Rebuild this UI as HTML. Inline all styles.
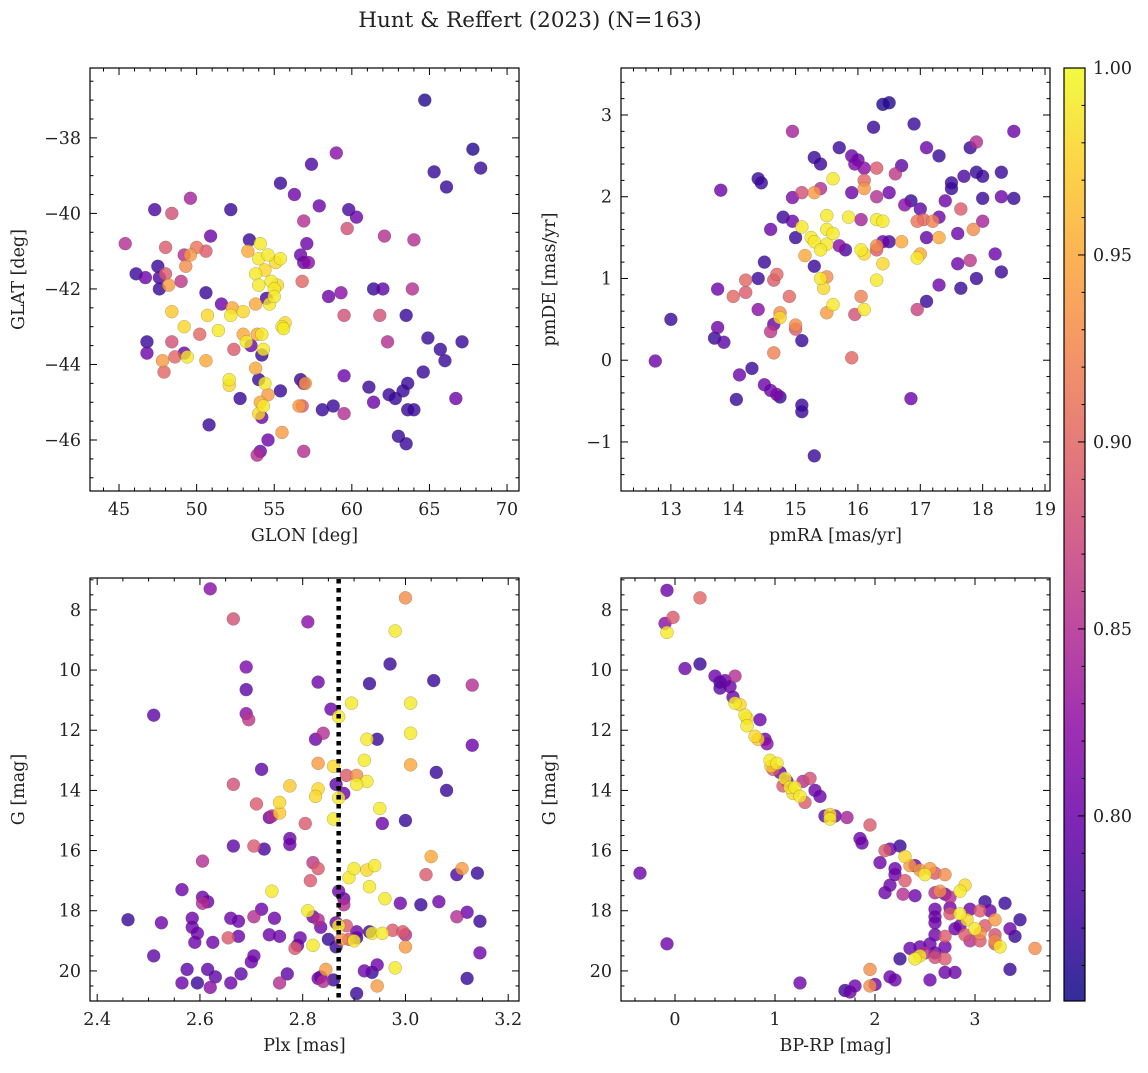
<!DOCTYPE html>
<html><head><meta charset="utf-8"><style>
html,body{margin:0;padding:0;background:#fff;}
svg text{font-family:"DejaVu Serif","Liberation Serif",serif;fill:#222;}
</style></head><body>
<svg id="fig" width="1148" height="1068" xmlns="http://www.w3.org/2000/svg">
<defs><linearGradient id="cbg" x1="0" y1="1" x2="0" y2="0"></linearGradient></defs>
<text x="530" y="27" font-size="21.5" text-anchor="middle">Hunt &amp; Reffert (2023) (N=163)</text>
</svg>
<script>
// ---- data: [x, y, membership probability] per panel ----
const p1 = [[64.7,-37.0,.76],[67.8,-38.3,.76],[68.3,-38.8,.77],[65.3,-38.9,.77],[66.1,-39.3,.77],[57.4,-38.7,.78],[59.0,-38.4,.82],[55.4,-39.2,.77],[56.3,-39.5,.8],[47.3,-39.9,.78],[49.6,-39.6,.84],[52.2,-39.9,.77],[57.9,-39.8,.8],[56.9,-40.2,.85],[59.8,-39.9,.78],[60.3,-40.1,.8],[45.4,-40.8,.85],[48.0,-40.9,.89],[48.4,-40.0,.88],[50.0,-40.9,.91],[50.9,-40.6,.8],[53.4,-40.7,.77],[54.1,-40.8,.99],[59.7,-40.4,.88],[62.1,-40.6,.85],[64.0,-40.7,.85],[57.1,-40.8,.8],[46.1,-41.6,.77],[46.7,-41.7,.8],[47.5,-41.4,.77],[47.6,-41.7,.78],[49.2,-41.1,.85],[49.6,-41.1,.94],[49.3,-41.4,.93],[50.6,-41.0,.89],[53.3,-41.0,.95],[54.0,-41.2,.99],[54.6,-41.1,.99],[55.1,-41.3,.98],[55.4,-41.2,.99],[56.7,-41.1,.8],[56.9,-41.3,.8],[57.2,-41.3,.82],[47.6,-42.0,.77],[48.0,-41.6,.89],[48.2,-41.9,.94],[49.0,-41.8,.86],[53.8,-41.6,.99],[54.0,-41.9,.99],[54.4,-41.5,.98],[54.8,-41.8,.99],[55.0,-42.0,.99],[55.2,-41.9,.98],[56.8,-41.8,.9],[58.5,-42.2,.8],[59.3,-42.1,.82],[61.4,-42.0,.77],[62.0,-42.0,.79],[63.9,-42.0,.85],[50.6,-42.1,.77],[48.4,-42.6,.97],[50.7,-42.7,.98],[51.6,-42.4,.8],[52.3,-42.5,.95],[52.2,-42.7,.99],[53.0,-42.6,.98],[53.8,-42.4,.95],[54.7,-42.4,.99],[55.0,-42.2,.99],[54.5,-42.25,.78],[59.5,-42.7,.88],[61.8,-42.7,.88],[63.5,-42.7,.77],[55.5,-43.0,.99],[55.7,-42.9,.98],[55.6,-43.05,.99],[46.8,-43.4,.77],[46.8,-43.7,.8],[48.4,-43.4,.88],[49.2,-43.0,.98],[50.2,-43.2,.9],[51.4,-43.1,.99],[52.4,-43.6,.89],[53.0,-43.2,.95],[53.2,-43.4,.99],[53.5,-43.5,.8],[53.9,-43.2,.95],[54.2,-43.2,.99],[54.3,-43.6,.99],[54.2,-43.75,.77],[62.3,-43.4,.85],[64.9,-43.3,.77],[65.7,-43.6,.77],[67.1,-43.4,.77],[66.0,-43.9,.77],[47.8,-43.9,.94],[47.9,-44.2,.9],[48.6,-43.8,.9],[49.2,-43.7,.8],[49.4,-43.8,.99],[50.6,-43.9,.95],[52.1,-44.4,.99],[52.1,-44.55,.98],[53.8,-44.1,.95],[54.0,-44.4,.77],[54.4,-44.5,.99],[56.7,-44.4,.77],[56.9,-44.5,.8],[57.0,-44.5,.94],[59.5,-44.3,.8],[64.6,-44.2,.77],[52.8,-44.9,.77],[54.1,-45.0,.95],[54.0,-45.3,.98],[54.3,-45.1,.99],[54.6,-44.8,.94],[54.2,-45.4,.8],[55.4,-44.7,.77],[56.6,-45.1,.94],[56.8,-45.1,.89],[58.1,-45.2,.77],[58.8,-45.1,.77],[59.5,-45.3,.85],[61.1,-44.6,.77],[61.4,-45.0,.8],[62.4,-44.8,.77],[62.8,-44.9,.77],[63.3,-44.7,.77],[63.6,-44.5,.77],[63.6,-45.2,.77],[64.0,-45.2,.77],[66.7,-44.9,.8],[50.8,-45.6,.77],[54.1,-46.3,.8],[54.6,-46.0,.8],[53.9,-46.4,.85],[55.5,-45.8,.94],[56.9,-46.3,.85],[63.0,-45.9,.77],[63.5,-46.1,.77]];
const p2 = [[16.4,3.13,.76],[16.5,3.15,.76],[16.9,2.89,.77],[18.5,2.8,.8],[14.95,2.8,.84],[17.1,2.6,.8],[17.8,2.6,.77],[17.9,2.67,.85],[16.25,2.85,.77],[15.7,2.6,.77],[15.3,2.48,.77],[15.4,2.4,.77],[15.9,2.5,.8],[16.0,2.45,.8],[15.95,2.4,.81],[16.1,2.35,.82],[16.3,2.35,.89],[16.7,2.38,.79],[17.3,2.5,.77],[18.3,2.3,.77],[17.9,2.3,.77],[18.0,2.25,.77],[17.7,2.25,.78],[17.5,2.1,.77],[17.5,2.17,.77],[16.6,2.28,.86],[16.5,2.05,.8],[16.1,2.1,.94],[16.1,2.2,.9],[15.6,2.22,.99],[15.4,2.1,.85],[15.3,2.05,.94],[15.1,2.05,.88],[14.4,2.22,.77],[14.45,2.17,.77],[13.8,2.08,.8],[14.95,1.99,.81],[15.9,2.05,.8],[16.3,2.0,.85],[16.75,1.9,.82],[16.85,1.95,.77],[17.3,1.75,.8],[17.4,1.95,.8],[17.65,1.85,.89],[18.0,1.98,.77],[18.3,2.0,.8],[18.5,1.98,.77],[17.0,1.85,.79],[17.2,1.7,.92],[17.05,1.72,.9],[16.95,1.7,.91],[18.0,1.7,.84],[16.3,1.72,.99],[16.4,1.7,.99],[16.05,1.72,.84],[15.85,1.75,.99],[15.5,1.77,.99],[15.1,1.63,.99],[14.8,1.75,.77],[14.6,1.6,.8],[14.95,1.7,.8],[15.0,1.5,.77],[15.25,1.5,.99],[15.3,1.45,.99],[15.5,1.6,.99],[15.5,1.42,.99],[15.6,1.55,.99],[15.4,1.35,.99],[15.7,1.4,.82],[15.8,1.35,.78],[16.05,1.35,.99],[16.1,1.3,.98],[16.3,1.4,.93],[16.3,1.35,.89],[16.4,1.45,.8],[16.5,1.45,.78],[16.7,1.45,.95],[17.3,1.5,.95],[17.1,1.5,.79],[17.6,1.55,.8],[17.85,1.6,.93],[16.95,1.25,.99],[17.0,1.3,.95],[16.4,1.18,.98],[15.3,1.15,.77],[15.15,1.28,.95],[15.4,1.0,.99],[15.5,1.02,.93],[15.45,0.88,.98],[14.5,1.2,.77],[14.4,1.0,.77],[14.2,0.98,.9],[13.75,0.87,.8],[14.0,0.78,.9],[14.2,0.83,.89],[14.65,0.98,.89],[14.7,1.05,.9],[16.3,0.98,.99],[16.05,0.78,.92],[15.6,0.68,.99],[15.95,0.56,.88],[16.1,0.62,.99],[14.75,0.58,.93],[14.75,0.52,.98],[14.9,0.78,.9],[14.4,0.62,.82],[14.65,0.44,.8],[15.0,0.43,.93],[15.0,0.38,.89],[14.6,0.35,.86],[15.1,0.24,.77],[15.5,0.58,.94],[17.1,0.72,.77],[18.3,1.08,.77],[17.9,1.0,.77],[17.6,1.18,.8],[17.65,0.88,.77],[18.2,1.3,.8],[17.8,1.22,.86],[17.3,0.92,.8],[16.95,0.62,.87],[13.0,0.5,.77],[13.7,0.27,.77],[13.75,0.4,.8],[13.85,0.22,.79],[14.65,0.09,.92],[14.3,-0.1,.77],[14.1,-0.18,.8],[14.5,-0.3,.8],[14.6,-0.37,.8],[14.7,-0.42,.81],[14.75,-0.45,.77],[12.75,-0.01,.8],[15.9,0.03,.9],[14.05,-0.48,.77],[15.1,-0.55,.77],[15.1,-0.63,.77],[16.85,-0.47,.8],[15.3,-1.17,.77]];
const p3 = [[2.62,7.3,.82],[2.665,8.3,.88],[2.81,8.4,.82],[3.0,7.6,.93],[2.98,8.7,.99],[2.69,9.9,.81],[2.97,9.8,.77],[2.83,10.4,.8],[2.93,10.45,.77],[2.895,11.1,.99],[3.055,10.35,.77],[3.13,10.5,.85],[2.69,10.65,.79],[2.51,11.5,.79],[2.69,11.45,.82],[2.695,11.65,.86],[2.855,11.3,.8],[2.87,11.55,.99],[3.01,11.1,.99],[2.825,12.3,.8],[2.84,12.1,.85],[2.925,12.3,.99],[2.945,12.3,.77],[3.01,12.1,.99],[3.13,12.5,.8],[2.72,13.3,.79],[2.83,13.1,.94],[2.86,13.2,.98],[2.885,13.5,.89],[2.905,13.5,.93],[2.92,13.0,.99],[2.925,13.7,.99],[3.01,13.15,.95],[3.06,13.4,.77],[2.665,13.8,.88],[2.775,13.85,.97],[2.83,13.95,.98],[2.825,14.2,.98],[2.87,14.25,.99],[2.865,13.8,.79],[2.88,14.1,.8],[2.905,13.8,.99],[2.755,14.4,.98],[2.71,14.45,.89],[2.735,14.9,.8],[2.74,14.85,.85],[2.755,14.75,.97],[2.86,14.95,.99],[2.95,14.6,.99],[3.08,14.0,.77],[2.705,15.85,.89],[2.665,15.85,.79],[2.725,15.95,.78],[2.775,15.6,.8],[2.775,15.8,.8],[2.805,15.1,.89],[2.955,15.1,.8],[3.0,15.0,.77],[2.605,16.35,.85],[2.82,16.4,.86],[2.83,16.6,.89],[2.89,16.9,.99],[2.9,16.6,.99],[2.925,16.65,.98],[2.94,16.5,.99],[3.05,16.2,.95],[3.04,16.8,.89],[3.11,16.6,.94],[3.14,16.75,.77],[3.1,16.8,.78],[2.74,17.35,.99],[2.565,17.3,.8],[2.605,17.55,.8],[2.605,17.75,.85],[2.615,17.7,.8],[2.815,17.0,.89],[2.87,17.35,.8],[2.88,17.6,.8],[2.88,17.8,.85],[2.93,17.2,.99],[2.96,17.6,.99],[2.99,17.75,.8],[3.03,17.8,.77],[3.065,17.7,.8],[3.1,18.2,.85],[3.12,18.05,.8],[3.145,18.35,.77],[2.46,18.3,.77],[2.525,18.4,.8],[2.585,18.25,.8],[2.585,18.55,.8],[2.595,18.75,.8],[2.655,18.9,.89],[2.66,18.25,.8],[2.675,18.35,.8],[2.705,18.2,.85],[2.72,17.95,.8],[2.745,18.25,.8],[2.755,18.85,.8],[2.795,18.9,.8],[2.82,18.2,.8],[2.81,18.0,.99],[2.83,18.3,.85],[2.835,18.55,.8],[2.865,18.4,.8],[2.87,18.5,.99],[2.885,18.5,.89],[2.905,18.7,.8],[2.93,18.7,.77],[2.935,18.75,.99],[2.955,18.75,.99],[2.975,18.65,.89],[2.995,18.7,.89],[3.0,18.8,.85],[3.0,19.2,.94],[2.865,19.2,.77],[2.875,18.95,.93],[2.89,18.95,.89],[2.9,19.0,.99],[2.905,18.9,.77],[2.85,18.95,.77],[2.82,19.15,.99],[2.79,19.15,.8],[2.785,19.25,.89],[2.735,18.8,.8],[2.705,19.5,.8],[2.7,19.7,.8],[2.675,18.85,.8],[2.625,19.05,.8],[2.59,19.05,.8],[2.51,19.5,.79],[2.575,19.95,.79],[2.615,19.95,.79],[2.63,20.2,.79],[2.68,20.1,.79],[2.77,20.1,.79],[2.845,19.95,.94],[2.92,20.0,.8],[2.935,20.05,.77],[2.945,19.8,.8],[2.98,19.9,.99],[3.12,20.25,.77],[2.565,20.4,.8],[2.595,20.4,.77],[2.62,20.55,.82],[2.66,20.4,.8],[2.755,20.4,.85],[2.835,20.2,.8],[2.86,20.3,.77],[2.84,20.35,.85],[2.905,20.75,.77],[2.945,20.5,.94],[3.145,19.4,.8],[2.83,20.25,.8]];
const p4 = [[-0.08,7.35,.8],[-0.02,8.25,.89],[-0.1,8.45,.82],[-0.08,8.75,.99],[0.25,7.6,.9],[0.1,9.95,.8],[0.25,9.8,.77],[0.4,10.2,.8],[0.45,10.4,.77],[0.5,10.35,.8],[0.45,10.6,.79],[0.6,10.2,.85],[0.55,10.55,.8],[0.58,10.9,.8],[0.6,11.1,.99],[0.65,11.15,.98],[0.7,11.5,.99],[0.72,11.6,.98],[0.72,11.85,.99],[0.85,11.65,.8],[0.8,12.2,.98],[0.83,12.3,.97],[0.9,12.3,.8],[0.92,12.45,.82],[0.95,13.0,.99],[0.96,13.2,.97],[0.98,13.3,.89],[1.02,13.1,.99],[1.05,13.4,.8],[1.1,13.6,.99],[1.12,13.7,.8],[1.08,13.85,.89],[1.15,13.9,.99],[1.18,14.1,.98],[1.2,13.9,.99],[1.25,14.2,.99],[1.28,13.7,.85],[1.35,13.6,.88],[1.3,14.4,.89],[1.4,14.0,.8],[1.45,14.2,.8],[1.5,14.85,.79],[1.55,14.8,.98],[1.55,14.95,.99],[1.6,14.85,.8],[1.72,14.9,.84],[1.85,15.6,.8],[1.87,15.75,.8],[1.95,15.15,.89],[2.05,16.4,.8],[2.1,16.0,.89],[2.15,15.95,.8],[2.25,15.85,.77],[2.3,16.2,.98],[2.35,16.5,.94],[2.2,16.6,.8],[2.2,16.8,.8],[2.15,17.15,.8],[2.1,17.4,.8],[2.3,17.0,.89],[2.4,16.5,.8],[2.45,16.65,.94],[2.5,16.8,.99],[2.55,16.6,.94],[2.6,16.75,.89],[2.7,16.8,.93],[2.28,17.45,.85],[2.4,17.5,.8],[2.6,17.4,.85],[2.7,17.45,.8],[2.65,17.35,.93],[2.75,17.55,.85],[2.85,17.35,.99],[2.9,17.15,.98],[2.75,17.9,.8],[2.6,17.95,.8],[2.6,18.2,.8],[2.6,18.4,.8],[2.75,18.1,.89],[2.85,18.1,.99],[2.92,18.3,.98],[2.95,17.95,.8],[3.1,17.7,.77],[3.15,18.0,.8],[3.3,17.75,.77],[3.45,18.3,.77],[3.05,18.0,.89],[3.2,18.3,.94],[3.0,18.6,.99],[2.9,18.8,.89],[2.8,18.6,.8],[2.7,18.85,.89],[2.85,18.5,.8],[3.05,18.75,.93],[3.1,18.5,.89],[3.2,18.8,.88],[3.35,18.6,.8],[3.4,18.85,.77],[2.6,18.8,.8],[2.55,19.1,.8],[2.7,19.2,.8],[2.6,19.4,.8],[2.45,19.2,.8],[2.35,19.25,.8],[2.5,19.4,.85],[3.05,19.0,.89],[3.2,19.1,.89],[3.25,19.2,.99],[3.2,19.0,.93],[2.95,19.0,.85],[3.6,19.25,.93],[3.35,19.95,.77],[2.7,19.6,.89],[2.6,19.55,.88],[2.45,19.5,.99],[2.4,19.6,.99],[2.25,19.6,.77],[2.8,20.05,.8],[2.7,20.05,.8],[2.55,20.3,.8],[2.2,20.3,.8],[2.15,20.2,.8],[1.95,19.95,.93],[1.95,20.5,.93],[1.7,20.65,.77],[1.75,20.7,.8],[1.8,20.5,.8],[2.0,20.45,.8],[1.25,20.4,.8],[-0.35,16.75,.8],[-0.08,19.1,.8]];
const cbTicks = [0.80,0.85,0.90,0.95,1.00];
const plxMean = 2.87;

const NS='http://www.w3.org/2000/svg';
const svg=document.getElementById('fig');
function el(tag,attrs,parent){const e=document.createElementNS(NS,tag);for(const k in attrs)e.setAttribute(k,attrs[k]);(parent||svg).appendChild(e);return e;}
const plasma=['#0d0887','#41049d','#6a00a8','#8f0da4','#b12a90','#cc4778','#e16462','#f2844b','#fca636','#fcce25','#f0f921'];
function hex(h){return [1,3,5].map(i=>parseInt(h.substr(i,2),16));}
function cmap(p){let t=(p-0.75)/0.25;t=Math.max(0,Math.min(1,t));const s=t*10,i=Math.min(9,Math.floor(s)),f=s-i;const a=hex(plasma[i]),b=hex(plasma[i+1]);return 'rgb('+a.map((v,k)=>Math.round(v+(b[k]-v)*f)).join(',')+')';}

function panel(name,box,xr,yr,xmaj,xmin,ymaj,ymin,xdec,ydec,xlabel,ylabel,pts,invertY){
  const [L,T,R,B]=box;
  const sx=v=>L+(v-xr[0])/(xr[1]-xr[0])*(R-L);
  const sy=invertY?(v=>T+(v-yr[0])/(yr[1]-yr[0])*(B-T)):(v=>B-(v-yr[0])/(yr[1]-yr[0])*(B-T));
  const g=el('g',{});
  
  
  const clip=el('clipPath',{id:'c'+name},g);el('rect',{x:L,y:T,width:R-L,height:B-T},clip);
  const pg=el('g',{'clip-path':'url(#c'+name+')'},g);
  
  
  const sorted=pts.slice().sort((a,b)=>a[2]-b[2]);
  for(const p of sorted){const c=el('circle',{cx:sx(p[0]),cy:sy(p[1]),r:6.5,fill:cmap(p[2]),'fill-opacity':0.8,stroke:'#444','stroke-opacity':0.4,'stroke-width':0.5},pg);
    
    }
  el('rect',{x:L,y:T,width:R-L,height:B-T,fill:'none',stroke:'#000','stroke-width':1.2},g);
  const lo=Math.min(xr[0],xr[1]),hi=Math.max(xr[0],xr[1]);
  for(let v=Math.ceil(lo/xmin-1e-6)*xmin;v<=hi+1e-9;v+=xmin){const x=sx(v);const isMaj=Math.abs(v/xmaj-Math.round(v/xmaj))<1e-6;const len=isMaj?7:3.5;
    el('line',{x1:x,x2:x,y1:B,y2:B-len,stroke:'#000','stroke-width':1},g);el('line',{x1:x,x2:x,y1:T,y2:T+len,stroke:'#000','stroke-width':1},g);
    if(isMaj){const t=el('text',{x:x,y:B+24,'font-size':17.5,'text-anchor':'middle'},g);t.textContent=v.toFixed(xdec).replace('-','\u2212');
      
      }}
  const ylo=Math.min(yr[0],yr[1]),yhi=Math.max(yr[0],yr[1]);
  for(let v=Math.ceil(ylo/ymin-1e-6)*ymin;v<=yhi+1e-9;v+=ymin){const y=sy(v);const isMaj=Math.abs(v/ymaj-Math.round(v/ymaj))<1e-6;const len=isMaj?7:3.5;
    el('line',{x1:L,x2:L+len,y1:y,y2:y,stroke:'#000','stroke-width':1},g);el('line',{x1:R,x2:R-len,y1:y,y2:y,stroke:'#000','stroke-width':1},g);
    if(isMaj){const t=el('text',{x:L-9,y:y+6,'font-size':17.5,'text-anchor':'end'},g);t.textContent=(Math.abs(v)<1e-9?0:v).toFixed(ydec).replace('-','\u2212');
      
      }}
  const xl=el('text',{x:(L+R)/2,y:B+50,'font-size':17.5,'text-anchor':'middle'},g);xl.textContent=xlabel;
  
  
  const yx=L-66;const yl=el('text',{x:yx,y:(T+B)/2,'font-size':17.5,'text-anchor':'middle',transform:'rotate(-90 '+yx+' '+(T+B)/2+')'},g);yl.textContent=ylabel;
  
  
  return {sx,sy,g};
}
panel('glon-glat',[90,68,519,491],[43.13,70.77],[-47.35,-36.15],5,1,2,0.5,0,0,'GLON [deg]','GLAT [deg]',p1,false);
const P2=panel('pm',[621,68,1050,491],[12.2,19.08],[-1.6,3.575],1,0.2,1,0.2,0,0,'pmRA [mas/yr]','pmDE [mas/yr]',p2,false);
const P3=panel('plx-g',[90,578,519,1001],[2.386,3.221],[6.94,21.0],0.2,0.05,2,0.5,1,0,'Plx [mas]','G [mag]',p3,true);
panel('cmd',[621,578,1050,1001],[-0.54,3.75],[6.94,21.0],1,0.2,2,0.5,0,0,'BP-RP [mag]','G [mag]',p4,true);
// plx mean line
const ml=el('line',{x1:P3.sx(plxMean),x2:P3.sx(plxMean),y1:579,y2:1000,stroke:'#000','stroke-width':4.5,'stroke-dasharray':'4.5,4.5'});


// colorbar
const grad=document.getElementById('cbg');
for(let i=0;i<=20;i++){el('stop',{offset:(i*5)+'%','stop-color':cmap(0.7505+0.2495*i/20),'stop-opacity':0.85},grad);}
const cb=el('g',{});


const cL=1064,cR=1085,cT=68,cB=1001,cmin=0.7505,cmax=1.0;
el('rect',{x:cL,y:cT,width:cR-cL,height:cB-cT,fill:'url(#cbg)',stroke:'#000','stroke-width':1.2},cb);
const cy=v=>cB-(v-cmin)/(cmax-cmin)*(cB-cT);
for(let k=76;k<=100;k++){const v=k/100,y=cy(v);const maj=k%5===0;el('line',{x1:cR,x2:cR-(maj?7:3.5),y1:y,y2:y,stroke:'#000','stroke-width':1},cb);}
for(const v of cbTicks){const t=el('text',{x:cR+8,y:cy(v)+6,'font-size':17.5},cb);t.textContent=v.toFixed(2);
  
  }
</script>
</body></html>
